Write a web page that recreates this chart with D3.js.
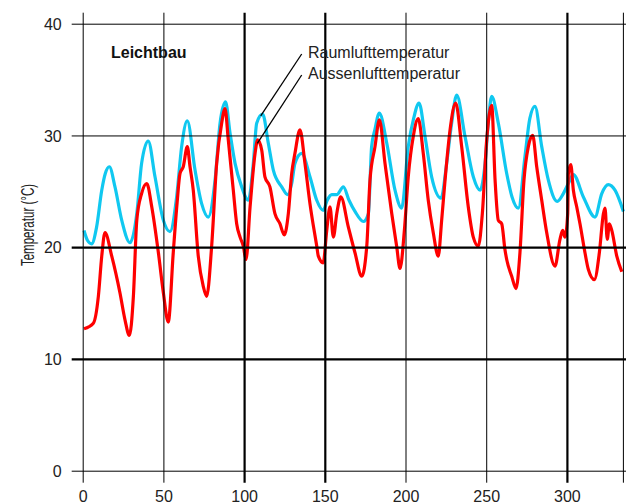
<!DOCTYPE html>
<html>
<head>
<meta charset="utf-8">
<script src="https://cdn.jsdelivr.net/npm/d3@7"></script>
<style>
  html, body { margin: 0; padding: 0; background: #fff; }
  svg { display: block; font-family: Arial, "Liberation Sans", sans-serif; }
</style>
</head>
<body>
<svg id="chart" width="626" height="504"></svg>
<script>
// ---- data ----
const xTicks = [0, 50, 100, 150, 200, 250, 300];
const yTicks = [0, 10, 20, 30, 40];
const thickX = [100, 150, 300];
const thickY = [10, 20];
const xMax = 335;

const seriesNames = ["Raumlufttemperatur", "Aussenlufttemperatur"];
const chartTitle = "Leichtbau";
const yTitle = "Temperatur (\u00B0C)";

// Raumlufttemperatur (cyan)
const roomX = [0.8,3,5.5,8.6,11.8,14,16.5,20,24.2,29.3,33.5,36.5,40.6,44.8,50,54.1,58.2,61.3,64.8,69.6,73.7,77.8,82,85.1,88.5,91.3,94.4,98.5,102.6,105.7,107.8,111.5,115,118.1,123.3,127,129.5,131.5,135.7,140.8,145,149,151.5,154.3,157.4,161.5,165,168.7,173.9,177,179,181,183.8,188.4,193.5,197.6,201.7,205,208.4,212.1,216.2,222,225.5,228.5,231.7,236.9,242,246.2,249.3,251.5,253.4,257.5,262.7,266,269.9,274,277,280.2,284.4,288.5,294,297.8,300.9,304,310.2,317.4,321.6,325.7,329.8,335];
const roomY = [21.5,20.6,20.3,21.8,25.1,26.6,27.2,25.4,22.4,20.4,23.0,27.5,29.5,26.3,22.4,21.4,24.5,29.0,31.3,26.9,23.9,22.7,26.0,31.1,33.0,30.2,27.5,25.4,24.2,27.5,31.1,31.9,29.3,26.9,25.4,24.7,25.7,27.5,28.4,26.3,24.2,23.3,24.2,24.7,24.7,25.4,24.2,23.2,22.3,23.0,29.0,30.5,32.0,29.3,25.1,23.5,29.0,31.5,32.9,29.9,26.3,24.4,27.5,31.0,33.6,29.9,26.3,25.1,27.5,31.5,33.5,31.1,26.6,24.5,23.5,28.1,31.5,32.6,29.0,26.0,24.1,24.8,25.7,26.5,24.5,22.7,24.8,25.6,25.1,23.2];

// Aussenlufttemperatur (red)
const outX = [0.8,6.6,9.7,11.8,13.8,18,23.1,26.2,28.9,31.4,33.5,36.5,39.7,42.8,46.9,50,53,56.1,58.5,60.3,62.3,64.8,66.5,68.5,71.6,74.7,76.8,79.9,83,86.1,88.2,90.2,93.3,95.4,97.5,99.5,101.2,103.7,106.8,108.4,110.9,112.9,116,119.1,122.2,124.9,127.4,129.5,131.5,134.6,137.7,140.8,145,146,149,151.2,153.2,155.3,157.4,159.9,164.6,168.7,172.9,176,178,181.1,183.8,187.3,191.5,194.5,196.6,199.3,201.7,204.8,207.9,211,214.1,217.2,220.3,222.4,224.5,227.6,231.1,234.8,238.9,242,245.1,247.6,250.3,253.4,255.5,257.5,259.6,261.6,262.7,265.8,268.5,270.9,273.4,276.1,278.8,281.3,284.4,287.5,292.6,295.7,297.4,298.8,300.5,300.9,302.4,304,306.1,308.1,311.2,313.3,317,320.1,322.6,323.6,325,326.3,327.8,330.9,334];
const outY = [12.7,13.2,15.6,19.2,21.3,19.2,15.9,13.5,12.1,15.6,22.4,24.8,25.7,23.6,19.5,15.9,13.3,19.5,24.0,26.6,27.2,29.0,27.2,25.1,19.2,16.5,15.6,20.1,27.5,31.1,32.4,29.6,25.1,22.1,20.9,20.1,18.9,23.6,28.4,29.6,28.7,26.3,25.4,23.0,22.1,21.1,23.0,26.6,28.4,30.5,27.5,23.9,20.1,19.2,18.6,21.5,23.6,20.9,23.0,24.5,21.8,19.5,17.4,20.1,26.0,29.0,31.4,27.5,23.0,20.1,18.1,21.5,26.3,29.9,31.5,28.4,24.2,21.3,19.2,22.4,26.0,30.5,32.9,29.0,23.6,20.9,20.1,23.0,29.6,32.7,26.0,22.4,22.1,19.8,18.9,17.4,16.3,19.5,26.0,29.0,30.0,27.2,24.2,21.3,18.3,20.7,21.5,20.9,23.0,26.6,27.4,25.1,23.6,22.1,19.5,18.0,17.1,19.5,23.0,23.5,20.7,22.1,21.5,19.2,17.8];

// leader line anchors (data coords on the curves)
const roomAnchor = [110.3, 31.75];
const outAnchor = [108.2, 29.3];

// ---- drawing ----
const svg = d3.select("#chart");
const x = d3.scaleLinear().domain([0, xMax]).range([82.7, 623.4]);
const y = d3.scaleLinear().domain([0, 40]).range([470.7, 23.7]);

const gridTop = y(40) - 11;
const gridBottom = y(0) + 12;
const gridLeft = x(0) - 11;
const gridRight = 626;

const line = d3.line()
  .x(d => x(d[0]))
  .y(d => y(d[1]))
  .curve(d3.curveMonotoneX);

const roomData = roomX.map((v, i) => [v, roomY[i]]);
const outData = outX.map((v, i) => [v, outY[i]]);

svg.append("path").datum(roomData)
  .attr("d", line).attr("fill", "none")
  .attr("stroke", "#10c8f0").attr("stroke-width", 3.2)
  .attr("stroke-linejoin", "round");

svg.append("path").datum(outData)
  .attr("d", line).attr("fill", "none")
  .attr("stroke", "#ff0000").attr("stroke-width", 3.2)
  .attr("stroke-linejoin", "round");

// x axis with vertical grid lines
const xAxis = svg.append("g")
  .attr("transform", `translate(0,${gridBottom})`)
  .call(d3.axisBottom(x).tickValues(xTicks).tickFormat(d3.format("d"))
    .tickSize(-(gridBottom - gridTop)).tickPadding(8));
xAxis.select(".domain").remove();
xAxis.selectAll(".tick line")
  .attr("stroke", "#000")
  .attr("stroke-width", d => thickX.includes(d) ? 2.2 : 1);
xAxis.selectAll(".tick text")
  .attr("font-size", 16).attr("fill", "#222");

// y axis with horizontal grid lines
const yAxis = svg.append("g")
  .attr("transform", `translate(${gridLeft},0)`)
  .call(d3.axisLeft(y).tickValues(yTicks).tickFormat(d3.format("d"))
    .tickSize(-(gridRight - gridLeft)).tickPadding(10));
yAxis.select(".domain").remove();
yAxis.selectAll(".tick line")
  .attr("stroke", "#000")
  .attr("stroke-width", d => thickY.includes(d) ? 2.2 : 1);
yAxis.selectAll(".tick text")
  .attr("font-size", 16).attr("fill", "#222").attr("dy", "0.36em");

// right border
svg.append("line")
  .attr("x1", x(xMax)).attr("x2", x(xMax))
  .attr("y1", gridTop).attr("y2", gridBottom)
  .attr("stroke", "#000").attr("stroke-width", 1);

// y title (horizontally condensed as in the reference)
svg.append("text")
  .attr("transform", `translate(34,225) rotate(-90) scale(0.66,1)`)
  .attr("text-anchor", "middle")
  .attr("font-size", 17.5)
  .attr("fill", "#222")
  .text(yTitle);

// chart label
svg.append("text")
  .attr("x", 111).attr("y", 58)
  .attr("font-size", 16).attr("font-weight", "bold")
  .attr("fill", "#111")
  .text(chartTitle);

// legend labels with leader lines
const labelPos = [[308, 58, 301.7, 54, roomAnchor], [308, 79, 301.7, 75, outAnchor]];
labelPos.forEach((p, i) => {
  svg.append("line")
    .attr("x1", p[2]).attr("y1", p[3])
    .attr("x2", x(p[4][0])).attr("y2", y(p[4][1]))
    .attr("stroke", "#000").attr("stroke-width", 1.3);
  svg.append("text")
    .attr("x", p[0]).attr("y", p[1])
    .attr("font-size", 16).attr("fill", "#222")
    .text(seriesNames[i]);
});
</script>
</body>
</html>
